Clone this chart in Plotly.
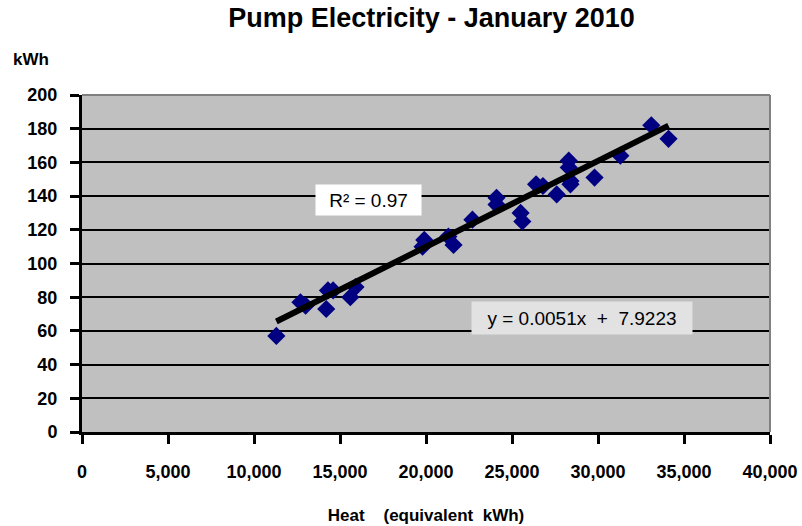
import plotly.graph_objects as go

heat = [11300, 12700, 13000, 14200, 14300, 14600, 15600, 15900, 19800, 19900,
        21300, 21600, 22700, 24100, 24100, 25500, 25600, 26400, 26800, 27600,
        28300, 28300, 28400, 28400, 29800, 31300, 33100, 34100]
kwh = [57, 77, 75, 73, 84, 84, 80, 86, 110, 114,
       116, 111, 126, 135, 139, 130, 125, 147, 146, 141,
       161, 157, 147, 149, 151, 164, 182, 174]

slope = 0.0051
intercept = 7.9223
r2_text = "R² = 0.97"
eq_text = "y = 0.0051x  +  7.9223"

x_ticks = [0, 5000, 10000, 15000, 20000, 25000, 30000, 35000, 40000]
y_ticks = [0, 20, 40, 60, 80, 100, 120, 140, 160, 180, 200]

FONT = "Liberation Sans, Arial, sans-serif"

xmin, xmax = min(heat), max(heat)
trend_x = [xmin, xmax]
trend_y = [slope * v + intercept for v in trend_x]

fig = go.Figure()
fig.add_trace(go.Scatter(
    x=heat, y=kwh, mode="markers",
    marker=dict(symbol="diamond", size=14, color="#000080",
                line=dict(width=0)),
    showlegend=False))
fig.add_trace(go.Scatter(
    x=trend_x, y=trend_y, mode="lines",
    line=dict(color="black", width=6),
    showlegend=False))

fig.update_layout(
    width=802, height=526,
    margin=dict(l=82, r=32, t=95, b=94),
    paper_bgcolor="white",
    plot_bgcolor="#C0C0C0",
    font=dict(family=FONT, color="black"),
    title=dict(text="<b>Pump Electricity - January 2010</b>",
               x=0.538, xanchor="center", y=0.984, yanchor="top",
               font=dict(size=27, family=FONT)),
    showlegend=False,
)
fig.update_xaxes(
    range=[0, 40000], tickvals=x_ticks,
    ticktext=[f"<b>{v:,}</b>" for v in x_ticks],
    showgrid=False, zeroline=False, automargin=False,
    showline=True, linecolor="black", linewidth=3,
    ticks="outside", ticklen=9, tickwidth=3, tickcolor="black",
    tickfont=dict(size=18, family=FONT),
    ticklabelstandoff=12,
    title=dict(text="<b>Heat    (equivalent  kWh)</b>",
               font=dict(size=17, family=FONT), standoff=29),
)
fig.update_yaxes(
    range=[0, 200], tickvals=y_ticks,
    ticktext=[f"<b>{v}</b>" for v in y_ticks],
    showgrid=True, gridcolor="black", gridwidth=2,
    zeroline=False, automargin=False,
    showline=True, linecolor="black", linewidth=3,
    ticks="outside", ticklen=9, tickwidth=3, tickcolor="black",
    tickfont=dict(size=18, family=FONT),
    ticklabelstandoff=9,
)

# grey top and right border of plot area
fig.add_shape(type="line", xref="paper", yref="paper", x0=0, x1=1, y0=1, y1=1,
              line=dict(color="#808080", width=2), layer="above")
fig.add_shape(type="line", xref="paper", yref="paper", x0=1, x1=1, y0=0, y1=1,
              line=dict(color="#808080", width=2), layer="above")

fig.add_annotation(xref="paper", yref="paper", x=-0.074, y=1.104,
                   xanchor="center", yanchor="middle", showarrow=False,
                   text="<b>kWh</b>", font=dict(size=17, family=FONT))
fig.add_annotation(x=16650, y=137.5, showarrow=False, text=r2_text,
                   font=dict(size=19, family=FONT), bgcolor="white",
                   borderpad=4, width=97, height=22)
fig.add_annotation(x=29070, y=67.5, showarrow=False, text=eq_text,
                   font=dict(size=19, family=FONT), bgcolor="#e2e2e2",
                   borderpad=5, width=210, height=22)

fig.write_html("out.html",
               config={"displayModeBar": False},
               post_script="document.body.style.margin='0px';")
